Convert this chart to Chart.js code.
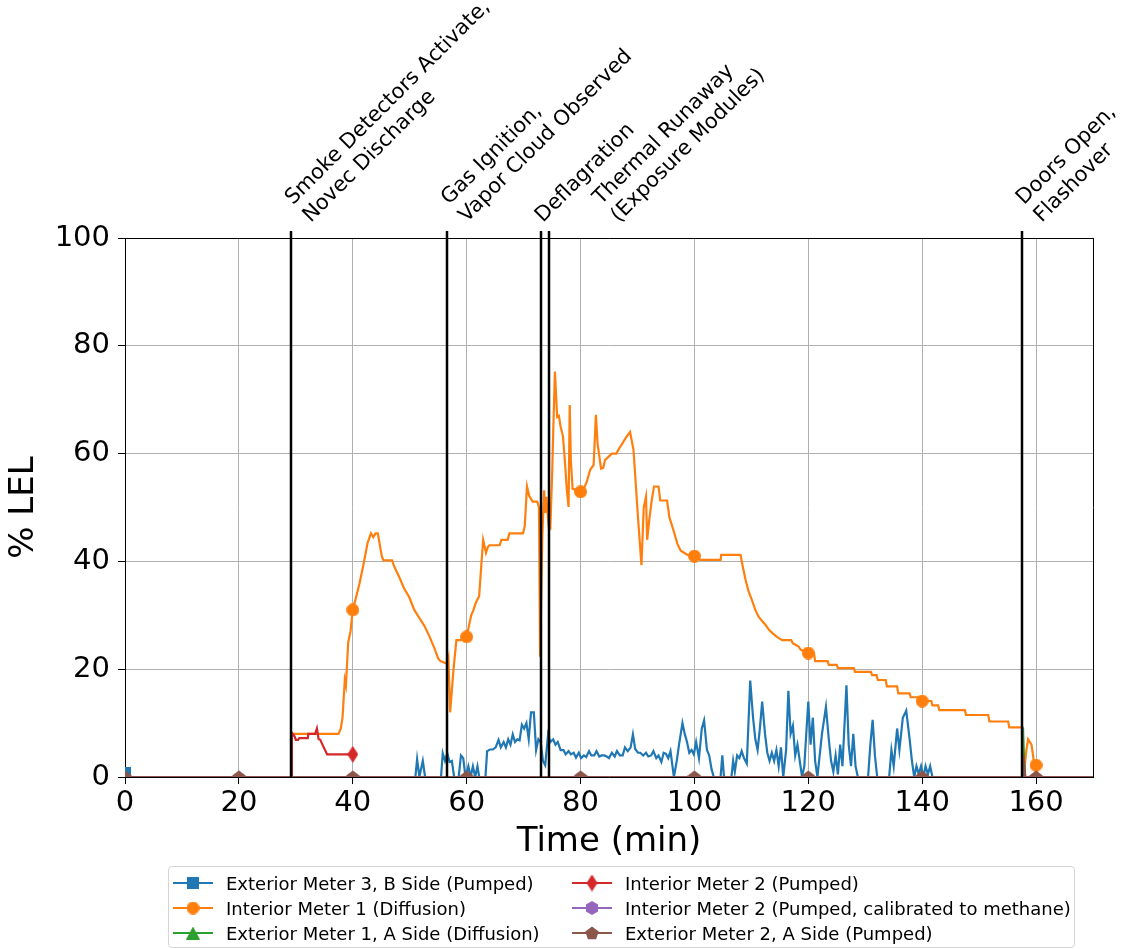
<!DOCTYPE html>
<html>
<head>
<meta charset="utf-8">
<script src="https://cdn.jsdelivr.net/npm/chart.js@4.4.1/dist/chart.umd.min.js"></script>
<style>
  html, body { margin: 0; padding: 0; background: #fff; }
  #wrap { position: relative; width: 1127px; height: 949px; }
  #legend {
    position: absolute; left: 168px; top: 866px; width: 905px; height: 80px;
    border: 1px solid #d5d5d5; border-radius: 4px; background: #fff;
    font-family: "DejaVu Sans", sans-serif; font-size: 18px; color: #000;
  }
  .item { position: absolute; height: 24px; display: flex; align-items: center; white-space: nowrap; }
  .item canvas { margin-right: 13px; }
</style>
</head>
<body>
<div id="wrap">
  <canvas id="chart" width="1127" height="949"></canvas>
  <div id="legend"></div>
</div>
<script>
// ---- Gas meter readings, time in minutes, value in % LEL ----
const exteriorMeter3B = [
  [0,0.8],[0.5,0],[51,0],[51.3,3.3],[51.7,0],[52.3,3],[52.7,0],[55.5,0],[55.8,4.4],[56.2,3],[56.6,4.4],[57,2.8],
  [57.4,3],[57.8,0],[58.6,0],[59,4],[59.4,3.5],[59.8,0],[60.3,2],[60.7,0],[61.1,2],[61.5,0],[61.9,2],[62.2,0],
  [63.3,0],[63.6,4.8],[64.1,5.1],[64.6,5.1],[65.1,5.5],[65.6,6.9],[66,5.5],[66.5,6.5],[66.9,5.5],[67.3,7],
  [67.7,6],[68.1,7.9],[68.5,6.5],[68.9,7],[69.3,6.8],[69.7,9.7],[70.1,9],[70.5,10],[70.9,7],[71.3,12],[71.8,12],
  [72.2,5],[72.6,7],[73,6.5],[73.4,3],[73.8,2.2],[74.3,7.9],[74.7,6.5],[75.2,7],[75.6,6],[76,6.5],[76.5,5],
  [77,5],[77.4,4.2],[77.9,4.8],[78.3,4.2],[78.8,4.5],[79.2,3.6],[79.7,4.5],[80.1,3.5],[80.6,4],[81,3.7],
  [81.5,4.8],[81.9,4],[82.4,4],[82.8,4.8],[83.3,3.8],[83.7,4],[84.2,4],[84.6,3.8],[85,3.5],[85.5,4.5],[86,3.8],
  [86.4,4.8],[86.9,4],[87.4,4],[87.8,5.5],[88.3,4.8],[88.8,5.5],[89.2,7.9],[89.6,5.2],[90.1,4.5],[90.5,4.5],
  [91,4],[91.5,4.5],[91.9,3.8],[92.4,4],[92.8,4.8],[93.3,3.5],[93.7,4],[94.2,2.8],[94.6,4.5],[95,4.3],[95.4,3.5],
  [95.8,4.8],[96.4,0],[96.9,3],[97.3,6],[97.9,10],[98.3,8],[98.7,6.5],[99.1,4.5],[99.5,5],[99.9,4.2],[100.3,6.5],
  [100.8,3.5],[101.3,9],[101.7,10.5],[102.2,5],[102.6,4],[103,1.5],[103.4,0],[104.6,0],[104.9,4],[105.2,0],
  [106.5,0],[106.8,3],[107.1,1],[107.5,4],[107.9,3.5],[108.3,4.8],[108.7,3.5],[109.2,2.5],[109.8,17.9],
  [110.3,11],[110.7,7],[111.1,5],[111.5,9],[111.9,14],[112.4,8],[112.8,4.5],[113.2,3],[113.6,4.5],[114,3],
  [114.4,5],[114.8,2],[115.2,5.5],[115.6,0],[116.1,5],[116.5,16],[116.9,8],[117.3,9.5],[117.7,4],[118.1,6],
  [118.5,3],[118.9,0],[119.3,2],[119.7,9],[120,14],[120.4,6],[120.8,11],[121.2,3],[121.6,0],[122,4],[122.4,8],
  [123.1,13],[123.6,7],[124,3],[124.4,1],[124.8,4],[125.2,0.5],[125.6,6],[126,2],[126.7,17],[127.1,6],[127.5,2],
  [127.9,8],[128.3,2],[128.7,0],[130.5,0],[130.9,6],[131.3,10.6],[131.7,4],[132.1,0],[134.2,0],[134.6,5],
  [135,2],[135.6,9],[136,5],[136.6,11],[137.2,12.3],[137.8,7],[138.2,3],[138.6,0],[139,2],[139.4,0.5],[139.8,2],
  [140.2,0],[140.6,2],[141,0.5],[141.4,2],[141.8,0],[170,0]
];

const interiorMeter1 = [
  [0,0],[29.2,0],[29.3,8],[37.5,8],[37.9,9],[38.2,11],[38.6,18],[38.8,17],[39.2,25],[39.6,27],[40,31],
  [40.5,33],[41.2,36],[41.8,39],[42.6,43.4],[43.2,45.2],[43.6,44.5],[44,45.2],[44.4,45.2],[45.1,40.9],
  [45.4,40.2],[46.9,40.2],[47.3,39],[48.2,37],[49,35],[49.9,33.4],[50.8,31],[51.7,29.5],[52.6,28],[53.5,26],
  [54.3,24],[55,22],[55.4,21.5],[56.6,21],[56.8,22],[57.1,12],[57.7,20],[58.2,25.4],[58.9,25.4],[60,26],
  [60.5,28.5],[60.8,30],[61.2,31],[61.6,32.3],[62.2,33.6],[62.6,39.7],[62.9,44],[63.4,41.6],[63.7,42.6],
  [64,43],[65.8,43],[66.1,44],[67.2,44],[67.5,45.2],[69.9,45.2],[70.2,46.5],[70.6,53.9],[71,52.1],[71.6,51.1],
  [72.4,51.1],[72.7,50],[72.9,22.3],[73.3,45],[73.6,53.2],[73.8,49],[74,52],[74.4,46.5],[74.7,46.2],[75,55.7],
  [75.2,63.8],[75.5,75.2],[75.9,66.8],[76.2,67],[76.5,65],[76.9,63.3],[77.2,59.4],[77.6,53.2],[77.9,50.1],
  [78.1,69],[78.3,58.8],[78.6,53.5],[80,52.9],[80.6,53.5],[81.1,54.8],[81.7,57],[82.3,57.9],[82.7,67.2],
  [83,61.8],[83.6,57.2],[84,57.4],[84.3,58.8],[84.9,59.4],[85.5,60],[86.3,60],[86.8,61],[87.3,61.8],[88,63],
  [88.7,64],[89.3,60.7],[89.6,56],[90.1,48],[90.7,39.3],[91.1,50],[91.5,52],[91.7,44],[92.1,48],[92.5,51.3],
  [92.9,53.9],[93.7,53.9],[94,51.3],[95.2,51.3],[95.6,48.2],[96.4,45.5],[97,43.3],[97.6,42],[98.8,41.2],
  [100,41],[101,40.3],[104.6,40.3],[104.7,41.2],[108.1,41.2],[108.5,39],[109,36.5],[109.5,34.5],[110.1,32.8],
  [110.7,31],[111.3,29.7],[112,28.8],[112.5,28.2],[113.1,27.3],[113.7,26.7],[114.5,26],[115.4,25.4],
  [117,25.4],[117.3,24.8],[118.3,24.2],[118.7,23.6],[120,23],[121,23],[121.2,21.5],[123.4,21.5],[123.6,20.8],
  [125,20.8],[125.2,20.2],[128,20.2],[128.2,19.5],[131,19.5],[131.2,18.9],[132,18.9],[132.2,18],[133.6,18],
  [133.8,16.8],[135.6,16.8],[135.8,15.5],[137.8,15.5],[138,14.8],[139.6,14.8],[140,14.1],[141.6,14.1],
  [141.8,13.3],[142.8,13.3],[143,12.4],[147.5,12.4],[147.7,11.5],[151.6,11.5],[151.8,10.3],[155.1,10.3],
  [155.3,9.2],[157.6,9.2],[157.8,0],[158.3,5],[158.6,7],[159.2,6],[159.6,3],[160,2.2],[160.3,0],[170,0]
];

const exteriorMeter1A = [[0,0],[157.6,0],[157.7,9.2],[157.9,3],[158.1,0],[170,0]];

const interiorMeter2 = [
  [0,0],[29.2,0],[29.3,8.2],[29.8,7.5],[30,6.9],[30.4,6.9],[30.6,7.2],[32.1,7.2],[32.2,8],[33.4,8],[33.7,9],
  [34,7],[34.3,6.9],[34.9,5.5],[35.5,4.2],[40,4.2],[40.2,4.2]
];

const interiorMeter2Methane = [[0,0],[170,0]];

const exteriorMeter2A = [
  [0,0],[20,0],[40,0],[60,0],[80,0],[100,0],[120,0],[140,0],[157.6,0],[157.8,4],[158.1,0],[160,0],[170,0]
];

// Times (min) that carry a marker on each trace
const blueMarks = [0];
const orangeMarks = [40, 60, 80, 100, 120, 140, 160];
const redMarks = [40];
const brownMarks = [0, 20, 40, 60, 80, 100, 120, 140, 160];

// Test events
const eventTimes = [29.2, 56.6, 73.0, 74.5, 157.5];
const eventLabels = [
  ["Smoke Detectors Activate,", "Novec Discharge"],
  ["Gas Ignition,", "Vapor Cloud Observed"],
  ["Deflagration"],
  ["Thermal Runaway", "(Exposure Modules)"],
  ["Doors Open,", "Flashover"]
];

const seriesNames = [
  "Exterior Meter 3, B Side (Pumped)",
  "Interior Meter 1 (Diffusion)",
  "Exterior Meter 1, A Side (Diffusion)",
  "Interior Meter 2 (Pumped)",
  "Interior Meter 2 (Pumped, calibrated to methane)",
  "Exterior Meter 2, A Side (Pumped)"
];

const xTicksStep = 20;
const yTicksStep = 20;

// ---- styling ----
const FONT = '"DejaVu Sans", sans-serif';
const COLORS = ['#1f77b4', '#ff7f0e', '#2ca02c', '#d62728', '#9467bd', '#8c564b'];
const labelShift = [0, 0, 0, 50, 0];   // px nudge for crowded event labels

function markerCanvas(kind, color) {
  const c = document.createElement('canvas');
  const g = c.getContext('2d');
  const sz = { square: [12, 12], circle: [13, 13], triangle: [14, 13], diamond: [11, 17], hexagon: [14, 14], pentagon: [14, 14] }[kind];
  c.width = sz[0]; c.height = sz[1];
  const w = sz[0], h = sz[1], cx = w / 2, cy = h / 2;
  g.fillStyle = color;
  g.beginPath();
  if (kind === 'square') {
    g.rect(0, 0, w, h);
  } else if (kind === 'circle') {
    g.arc(cx, cy, w / 2, 0, Math.PI * 2);
  } else if (kind === 'triangle') {
    g.moveTo(cx, 0); g.lineTo(w, h); g.lineTo(0, h); g.closePath();
  } else if (kind === 'diamond') {
    g.moveTo(cx, 0); g.lineTo(w, cy); g.lineTo(cx, h); g.lineTo(0, cy); g.closePath();
  } else {
    const n = kind === 'hexagon' ? 6 : 5;
    const r = w / 2;
    for (let i = 0; i < n; i++) {
      const a = -Math.PI / 2 + i * 2 * Math.PI / n;
      const px = cx + r * Math.cos(a), py = cy + r * Math.sin(a) + (n === 5 ? 0.6 : 0);
      if (i === 0) g.moveTo(px, py); else g.lineTo(px, py);
    }
    g.closePath();
  }
  g.fill();
  return c;
}

const markerKinds = ['square', 'circle', 'triangle', 'diamond', 'hexagon', 'pentagon'];
const markTimes = [blueMarks, orangeMarks, [], redMarks, [], brownMarks];
const seriesData = [exteriorMeter3B, interiorMeter1, exteriorMeter1A, interiorMeter2, interiorMeter2Methane, exteriorMeter2A];

const datasets = seriesData.map((rows, i) => {
  const img = markerCanvas(markerKinds[i], COLORS[i]);
  const marks = markTimes[i];
  const isMark = ctx => ctx.raw && marks.includes(ctx.raw.x);
  return {
    label: seriesNames[i],
    data: rows.map(([t, v]) => ({ x: t, y: v })),
    borderColor: COLORS[i],
    backgroundColor: COLORS[i],
    borderWidth: 2.2,
    tension: 0,
    pointRadius: ctx => isMark(ctx) ? 6 : 0,
    pointStyle: ctx => isMark(ctx) ? img : 'circle',
    pointBorderWidth: 0,
    order: 6 - i
  };
});

// Frame, event lines and rotated event labels
const eventPlugin = {
  id: 'events',
  afterDatasetsDraw(chart) {
    const { ctx, chartArea: a, scales: { x } } = chart;
    ctx.save();
    ctx.strokeStyle = '#000';
    ctx.lineWidth = 1;
    ctx.beginPath();
    ctx.moveTo(a.left, a.top + 0.5); ctx.lineTo(a.right + 0.5, a.top + 0.5);
    ctx.moveTo(a.right + 0.5, a.top); ctx.lineTo(a.right + 0.5, a.bottom);
    ctx.stroke();

    const step = 25 / Math.SQRT2;
    ctx.font = '21px ' + FONT;
    ctx.fillStyle = '#000';
    ctx.textBaseline = 'alphabetic';
    ctx.textAlign = 'left';
    eventTimes.forEach((t, i) => {
      const px = Math.round(x.getPixelForValue(t));
      ctx.lineWidth = 2.5;
      ctx.beginPath();
      ctx.moveTo(px, a.top - 7);
      ctx.lineTo(px, a.bottom);
      ctx.stroke();
      const lines = eventLabels[i];
      const n = lines.length;
      lines.forEach((s, j) => {
        const sx = px + 2 + labelShift[i] + j * step;
        const sy = a.top - 15 - (n - 1 - j) * step;
        ctx.save();
        ctx.translate(sx, sy);
        ctx.rotate(-Math.PI / 4);
        ctx.fillText(s, 0, 0);
        ctx.restore();
      });
    });
    ctx.restore();
  }
};

new Chart(document.getElementById('chart'), {
  type: 'line',
  data: { datasets },
  options: {
    responsive: false,
    animation: false,
    events: [],
    layout: { padding: { top: 238, right: 34, bottom: 82, left: 0 } },
    plugins: { legend: { display: false }, tooltip: { enabled: false } },
    scales: {
      x: {
        type: 'linear', min: 0, max: 170,
        afterFit: s => { s.height = 90; },
        ticks: { stepSize: xTicksStep, includeBounds: false, font: { family: FONT, size: 29 }, color: '#000', padding: 2, maxRotation: 0 },
        grid: { color: '#b0b0b0', lineWidth: 1, tickLength: 7, tickColor: '#000' },
        border: { color: '#000', width: 1 },
        title: { display: true, text: 'Time (min)', font: { family: FONT, size: 34 }, color: '#000', padding: { top: 4, bottom: 4 } }
      },
      y: {
        min: 0, max: 100,
        afterFit: s => { s.width = 125; },
        ticks: { stepSize: yTicksStep, font: { family: FONT, size: 29 }, color: '#000', padding: 8 },
        grid: { color: '#b0b0b0', lineWidth: 1, tickLength: 7, tickColor: '#000' },
        border: { color: '#000', width: 1 },
        title: { display: true, text: '% LEL', font: { family: FONT, size: 34 }, color: '#000', padding: { top: 4, bottom: 4 } }
      }
    }
  },
  plugins: [eventPlugin]
});

// Legend: two columns, three rows, filled column by column
const legend = document.getElementById('legend');
const colX = [4, 403];
seriesNames.forEach((name, i) => {
  const col = Math.floor(i / 3), row = i % 3;
  const item = document.createElement('div');
  item.className = 'item';
  item.style.left = colX[col] + 'px';
  item.style.top = (4 + row * 25) + 'px';
  const c = document.createElement('canvas');
  c.width = 40; c.height = 24;
  const g = c.getContext('2d');
  g.strokeStyle = COLORS[i]; g.lineWidth = 2;
  g.beginPath(); g.moveTo(0, 12); g.lineTo(40, 12); g.stroke();
  const m = markerCanvas(markerKinds[i], COLORS[i]);
  g.drawImage(m, 20 - m.width / 2, 12 - m.height / 2);
  item.appendChild(c);
  const span = document.createElement('span');
  span.textContent = name;
  item.appendChild(span);
  legend.appendChild(item);
});
</script>
</body>
</html>
